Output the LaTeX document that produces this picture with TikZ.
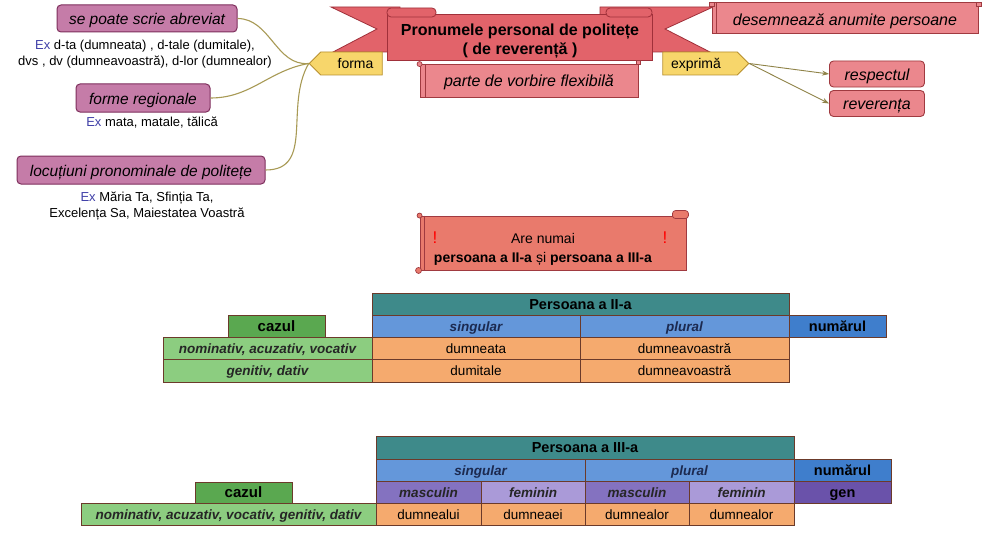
\documentclass[tikz,border=0pt]{standalone}
\usepackage{fontspec}
\setmainfont{Liberation Sans}
\usetikzlibrary{shapes.symbols,arrows.meta}
\definecolor{pinkfill}{HTML}{C57CA8}
\definecolor{pinkdraw}{HTML}{7E2F5C}
\definecolor{tagfill}{HTML}{F7D66B}
\definecolor{tagdraw}{HTML}{B8902E}
\definecolor{banfill}{HTML}{E2636A}
\definecolor{bandraw}{HTML}{A0303A}
\definecolor{scrfill}{HTML}{EB878D}
\definecolor{scrdraw}{HTML}{A03A40}
\definecolor{arefill}{HTML}{E97A6C}
\definecolor{connc}{HTML}{A89A55}
\definecolor{excol}{HTML}{4040A8}
\definecolor{celldraw}{HTML}{6B3A2A}
\definecolor{teal}{HTML}{3E8A8A}
\definecolor{blue1}{HTML}{6497DA}
\definecolor{blue2}{HTML}{3F7ECC}
\definecolor{purp1}{HTML}{8472C0}
\definecolor{purp2}{HTML}{AA9AD8}
\definecolor{purp3}{HTML}{6A52AA}
\definecolor{orng}{HTML}{F5AA6E}
\definecolor{grn1}{HTML}{8CCD80}
\definecolor{grn2}{HTML}{5AA850}
\definecolor{navy}{HTML}{1C2A50}
\newcommand{\fs}[2]{\fontsize{#1}{#2}\selectfont}
\begin{document}
\begin{tikzpicture}[x=1pt,y=-1pt,
  pbox/.style={draw=pinkdraw,fill=pinkfill,line width=1pt,rounded corners=4pt,inner sep=0pt,text height=12pt,text depth=0pt,font=\itshape\fs{15.5}{18}},
  extext/.style={align=center,inner sep=0pt,font=\fs{13}{16}},
  tag/.style={shape=signal,draw=tagdraw,fill=tagfill,line width=0.8pt,inner sep=0pt,minimum height=23pt,text height=10pt,text depth=0.5pt,font=\fs{14}{16}},
  banner/.style={draw=bandraw,fill=banfill,line width=0.8pt},
  scrollbox/.style={draw=scrdraw,fill=scrfill,line width=0.9pt,inner sep=0pt,text height=12pt,text depth=0pt,font=\itshape\fs{16}{19}},
  redbox/.style={draw=scrdraw,fill=scrfill,line width=0.9pt,rounded corners=4pt,inner sep=0pt,minimum width=95pt,minimum height=26pt,text height=13pt,text depth=0pt,font=\itshape\fs{16}{19}},
  knob/.style={draw=scrdraw,fill=scrfill,line width=0.7pt},
  conn/.style={draw=connc,line width=1.1pt},
  arr/.style={draw=connc!85!black,line width=0.9pt,-{Stealth[length=7pt,width=5pt]}},
  cell/.style={draw=celldraw,line width=0.8pt,inner sep=0pt,minimum height=22.5pt,text height=10pt,text depth=0pt,font=\fs{13.5}{16}},
  hcell/.style={cell,font=\bfseries\fs{14.5}{17}},
  icell/.style={cell,font=\bfseries\itshape\fs{13.5}{16},text=navy}
]
\useasboundingbox[fill=white] (0,0) rectangle (988,551);

% ---- banner ----
\filldraw[banner] (331,7) -- (400,7) -- (400,52) -- (333,52) -- (377,29) -- cycle;
\filldraw[banner] (600,7) -- (713,7) -- (665,29) -- (710,52) -- (600,52) -- cycle;
\filldraw[banner] (387,14) rectangle (652,60);
\filldraw[banner,rounded corners=4pt] (387,8) rectangle (436,17);
\filldraw[banner,rounded corners=4pt] (606,8) rectangle (652,17);
\node[align=center,font=\bfseries\fs{16}{19}] (title) at (520,41) {Pronumele personal de politețe\\( de reverență )};

% ---- scrolls ----
\node[scrollbox,minimum width=218pt,minimum height=33pt] (parte) at (529,81) {parte de vorbire flexibilă};
\draw[scrdraw,line width=0.7pt] ([xshift=6pt]parte.north west) -- ([xshift=6pt]parte.south west);
\filldraw[knob] (parte.north west) circle (2.5);
\filldraw[knob] ([xshift=-2pt]parte.north east) rectangle ([xshift=2pt,yshift=4pt]parte.north east);

\node[scrollbox,minimum width=266pt,minimum height=31pt,text height=15pt] (desem) at (845,18) {desemnează anumite persoane};
\draw[scrdraw,line width=0.7pt] ([xshift=5pt]desem.north west) -- ([xshift=5pt]desem.south west);
\filldraw[knob] ([xshift=-2pt,yshift=-4pt]desem.north west) rectangle ([xshift=3pt]desem.north west);
\filldraw[knob] ([xshift=-2pt,yshift=-4pt]desem.north east) rectangle ([xshift=3pt]desem.north east);

% ---- left boxes ----
\node[pbox,minimum width=180pt,minimum height=27pt] (box1) at (147,18.5) {se poate scrie abreviat};
\node[extext] (ex1) at (145,54) {{\color{excol}Ex} d-ta (dumneata) , d-tale (dumitale),\\dvs , dv (dumneavoastră), d-lor (dumnealor)};
\node[pbox,minimum width=134pt,minimum height=28pt] (box2) at (143,98) {forme regionale};
\node[extext] (ex2) at (152,122.5) {{\color{excol}Ex} mata, matale, tălică};
\node[pbox,minimum width=248pt,minimum height=28pt] (box3) at (141,170) {locuțiuni pronominale de politețe};
\node[extext] (ex3) at (147,206) {{\color{excol}Ex} Măria Ta, Sfinția Ta,\\Excelența Sa, Maiestatea Voastră};

% ---- tags ----
\node[tag,signal to=west,minimum width=73pt] (forma) at (351.5,63.5) {\hspace*{8pt}forma};
\node[tag,signal to=east,minimum width=86pt] (exprima) at (700,63.5) {exprimă\hspace*{8pt}};

\draw[conn] (forma.west) to[out=185,in=0,looseness=1] (box1.east);
\draw[conn] (forma.west) to[out=190,in=0,looseness=1] (box2.east);
\draw[conn] (forma.west) to[out=240,in=0,looseness=1.1] (box3.east);

\node[redbox] (resp) at (877,74) {respectul};
\node[redbox] (rever) at (877,103.5) {reverența};
\draw[arr] (exprima.east) -- (resp.west);
\draw[arr] (exprima.east) -- (rever.west);

% ---- Are numai ----
\node[draw=scrdraw,fill=arefill,line width=0.9pt,minimum width=266pt,minimum height=54pt,inner sep=0pt] (are) at (553,243) {};
\draw[scrdraw,line width=0.7pt] ([xshift=5pt]are.north west) -- ([xshift=5pt]are.south west);
\filldraw[knob,fill=arefill] (are.north west) circle (2.5);
\filldraw[knob,fill=arefill] ([xshift=-1pt]are.south west) circle (3);
\filldraw[knob,fill=arefill,rounded corners=3pt] ([xshift=-14pt,yshift=-3pt]are.north east) rectangle ([xshift=2pt,yshift=5pt]are.north east);
\node[align=center,font=\fs{14}{19}] (aretext) at (543,249) {Are numai\\\textbf{persoana a II-a} și \textbf{persoana a III-a}};
\node[text=red,font=\fs{17}{19}] (ex1mark) at (435,238) {!};
\node[text=red,font=\fs{17}{19}] (ex2mark) at (665,238) {!};

% ---- table 1 ----
\node[hcell,fill=teal,minimum width=417pt,minimum height=22pt] (t1h) at (580.5,304) {Persoana a II-a};
\node[icell,fill=blue1,minimum width=208pt,minimum height=22pt] (t1s) at (476,326) {singular};
\node[icell,fill=blue1,minimum width=209pt,minimum height=22pt] (t1p) at (684.5,326) {plural};
\node[hcell,fill=blue2,minimum width=97pt,minimum height=22pt] (t1n) at (837.5,326) {numărul};
\node[hcell,fill=grn2,minimum width=97pt,minimum height=22pt,font=\bfseries\fs{15}{17}] (t1c) at (276.5,326) {cazul};
\node[icell,fill=grn1,text=black!85,minimum width=209pt] (t1r1) at (267.5,348.25) {nominativ, acuzativ, vocativ};
\node[cell,fill=orng,minimum width=208pt] (t1r1a) at (476,348.25) {dumneata};
\node[cell,fill=orng,minimum width=209pt] (t1r1b) at (684.5,348.25) {dumneavoastră};
\node[icell,fill=grn1,text=black!85,minimum width=209pt] (t1r2) at (267.5,370.75) {genitiv, dativ};
\node[cell,fill=orng,minimum width=208pt] (t1r2a) at (476,370.75) {dumitale};
\node[cell,fill=orng,minimum width=209pt] (t1r2b) at (684.5,370.75) {dumneavoastră};

% ---- table 2 ----
\node[hcell,fill=teal,minimum width=418pt,minimum height=23pt] (t2h) at (585,447.5) {Persoana a III-a};
\node[icell,fill=blue1,minimum width=209pt,minimum height=22pt] (t2s) at (480.5,470) {singular};
\node[icell,fill=blue1,minimum width=209pt,minimum height=22pt] (t2p) at (689.5,470) {plural};
\node[hcell,fill=blue2,minimum width=97pt,minimum height=22pt] (t2n) at (842.5,470) {numărul};
\node[icell,fill=purp1,text=black!85,minimum width=105pt,minimum height=22pt] (t2m1) at (428.5,492) {masculin};
\node[icell,fill=purp2,text=black!85,minimum width=104pt,minimum height=22pt] (t2f1) at (533,492) {feminin};
\node[icell,fill=purp1,text=black!85,minimum width=104pt,minimum height=22pt] (t2m2) at (637,492) {masculin};
\node[icell,fill=purp2,text=black!85,minimum width=105pt,minimum height=22pt] (t2f2) at (741.5,492) {feminin};
\node[hcell,fill=purp3,minimum width=97pt,minimum height=22pt] (t2g) at (842.5,492) {gen};
\node[hcell,fill=grn2,minimum width=97pt,minimum height=21pt,font=\bfseries\fs{15}{17}] (t2c) at (243.5,492.5) {cazul};
\node[icell,fill=grn1,text=black!85,minimum width=295pt,minimum height=22pt] (t2r) at (228.5,514) {nominativ, acuzativ, vocativ, genitiv, dativ};
\node[cell,fill=orng,minimum width=105pt,minimum height=22pt] (t2d1) at (428.5,514) {dumnealui};
\node[cell,fill=orng,minimum width=104pt,minimum height=22pt] (t2d2) at (533,514) {dumneaei};
\node[cell,fill=orng,minimum width=104pt,minimum height=22pt] (t2d3) at (637,514) {dumnealor};
\node[cell,fill=orng,minimum width=105pt,minimum height=22pt] (t2d4) at (741.5,514) {dumnealor};
\end{tikzpicture}
\end{document}
